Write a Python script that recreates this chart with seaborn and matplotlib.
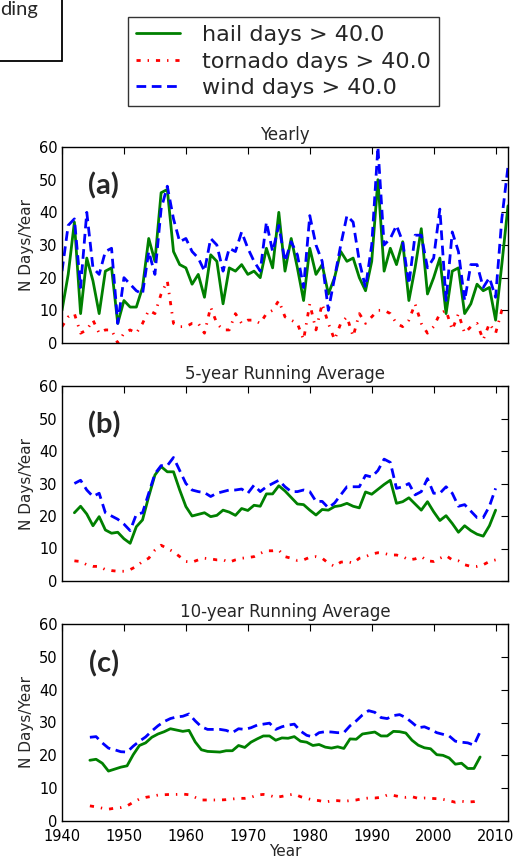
import numpy as np
import pandas as pd
import matplotlib
matplotlib.use("Agg")
import matplotlib.pyplot as plt
import seaborn as sns
from matplotlib.patches import Rectangle

# ---------------- data ----------------
years = list(range(1940, 2013))
hail_yearly = [10, 21, 37, 9, 26, 19, 9, 22, 23, 6,
               13, 11, 11, 17, 32, 25, 46, 47, 28, 24,
               23, 18, 21, 14, 27, 25, 12, 23, 22, 24,
               21, 22, 20, 29, 23, 40, 22, 32, 23, 13,
               29, 21, 24, 15, 20, 28, 25, 26, 20, 16,
               25, 50, 22, 29, 24, 31, 13, 23, 35, 15,
               20, 26, 9, 22, 23, 9, 12, 18, 16, 17,
               7, 24, 42]
tornado_yearly = [5, 8, 9, 3, 4, 7, 3, 4, 4, 0,
                  3, 4, 3, 6, 10, 9, 15, 19, 6, 5,
                  5, 6, 6, 3, 11, 6, 4, 4, 9, 6,
                  7, 7, 6, 9, 10, 13, 8, 7, 6, 1,
                  12, 4, 12, 6, 1, 6, 8, 2, 9, 6,
                  8, 10, 10, 9, 6, 5, 7, 12, 6, 3,
                  5, 9, 10, 4, 9, 3, 5, 6, 1, 6,
                  3, 10, 11]
wind_yearly = [22, 36, 38, 17, 40, 23, 21, 28, 29, 6,
               20, 18, 16, 15, 28, 21, 41, 48, 38, 31,
               32, 28, 26, 22, 32, 30, 22, 29, 28, 34,
               29, 25, 22, 37, 28, 36, 25, 31, 27, 17,
               39, 30, 25, 10, 20, 30, 39, 37, 25, 17,
               30, 60, 30, 32, 36, 31, 18, 33, 33, 23,
               26, 41, 13, 34, 28, 13, 24, 24, 17, 20,
               14, 38, 54]

years5 = list(range(1942, 2011))
hail_5yr = [21, 23, 20.6, 17, 19.8, 15.7, 14.7, 15, 13, 11.6,
            16.7, 18.8, 26, 32.6, 35.2, 33.6, 33.6, 28, 22.9, 20,
            20.5, 21, 19.8, 20.2, 21.8, 21.2, 20.2, 22.3, 21.7, 23.3,
            23, 26.8, 26.8, 29.3, 27.7, 25.7, 23.7, 23.5, 21.8, 20.3,
            22, 21.8, 22.9, 23.2, 23.9, 23, 22.5, 27.4, 26.7, 28.2,
            29.7, 31, 23.9, 24.4, 25.6, 23.7, 21.8, 24.4, 21.3, 18.6,
            20.1, 17.7, 15, 17, 15.5, 14.4, 13.8, 17, 21.8]
tornado_5yr = [6.2, 6, 5, 4.5, 4.5, 3.5, 3.2, 3, 3, 3.5,
               4.5, 6, 7, 9.5, 11, 10, 9, 7.5, 6, 5.8,
               6.5, 7, 6.8, 6.5, 6.5, 5.8, 6.5, 7, 7.2, 7.5,
               8.5, 9.3, 9.3, 9.5, 7.5, 7, 6.3, 6.5, 7.3, 7.5,
               7, 5.5, 4.5, 5.8, 6, 5.5, 7, 7.5, 8.3, 8.7,
               8.5, 8, 8, 7.5, 6.5, 6.8, 7.5, 6.2, 6, 7,
               7.8, 6.5, 6.2, 5, 4.5, 4.5, 5, 6, 6.5]
wind_5yr = [30, 31, 28, 26, 27, 21, 20, 19, 17.5, 15.5,
            20.5, 21, 27, 33, 35.5, 35.5, 38, 34, 30, 28,
            27.5, 27.2, 26, 27, 27.5, 28, 28, 28.3, 27, 29.5,
            27.5, 29, 30, 31, 29, 27.5, 27.5, 28, 27.5, 24.5,
            24.5, 22.5, 24, 26.5, 29, 29, 29, 32.5, 32, 34,
            37.5, 36.5, 28.5, 29, 30, 26.5, 27.5, 31.5, 27, 27,
            29, 27, 23, 23.5, 21.5, 19.5, 19.5, 23, 28.5]

years10 = [y + 0.5 for y in range(1944, 2008)]
hail_10yr = [18.5, 18.8, 17.6, 15.2, 15.8, 16.4, 16.8, 20.2, 23, 23.8,
             25.5, 26.5, 27.2, 28.1, 27.7, 27.3, 27.6, 24.1, 21.7, 21.2,
             21.1, 21, 21.4, 21.4, 23, 22.4, 24, 25, 25.9, 25.9,
             24.6, 25.3, 25.2, 25.7, 24.3, 24, 23, 23.3, 22.5, 22.2,
             22.6, 22.1, 25, 24.9, 26.5, 26.8, 27.1, 25.9, 25.9, 27.3,
             27.2, 26.8, 24.6, 23.1, 22.3, 22, 20.2, 20, 19.2, 17.3,
             17.6, 16, 16, 19.5]
tornado_10yr = [4.6, 4.3, 3.9, 3.6, 3.9, 4.1, 4.6, 5.7, 6.7, 7.2,
                7.5, 7.9, 8.0, 8.1, 8.1, 8.2, 8.0, 7.2, 6.4, 6.4,
                6.4, 6.4, 6.5, 6.7, 6.9, 6.9, 7.2, 7.9, 8.1, 7.8,
                7.2, 7.5, 7.9, 8.2, 7.4, 6.9, 6.4, 6.2, 5.8, 6.1,
                6.2, 6.0, 6.2, 6.4, 6.8, 7.0, 7.0, 7.2, 7.9, 7.8,
                7.4, 7.2, 7.4, 6.9, 7.0, 6.9, 6.8, 6.6, 6.2, 5.7,
                6.0, 5.8, 5.9, 6.3]
wind_10yr = [25.5, 25.7, 23.8, 22.2, 21.7, 21.1, 21.0, 22.8, 24.3, 25.6,
             27.4, 29.0, 30.3, 31.2, 31.7, 31.9, 32.6, 30.5, 28.7, 27.9,
             27.9, 27.9, 27.6, 26.9, 28.1, 27.9, 28.4, 29.2, 29.5, 29.8,
             27.9, 28.7, 29.2, 29.5, 27.4, 26.1, 25.6, 26.9, 27.2, 27.1,
             26.9, 26.9, 29.0, 30.5, 32.3, 33.6, 33.1, 31.5, 31.2, 32.1,
             32.4, 31.5, 30.0, 28.4, 28.7, 27.9, 26.9, 26.4, 25.9, 24.3,
             24.0, 23.8, 23.1, 27.2]

series_labels = ["hail days > 40.0", "tornado days > 40.0", "wind days > 40.0"]
panel_titles = ["Yearly", "5-year Running Average", "10-year Running Average"]
panel_tags = ["(a)", "(b)", "(c)"]
y_ticks = [0, 10, 20, 30, 40, 50, 60]
x_ticks = [1940, 1950, 1960, 1970, 1980, 1990, 2000, 2010]

# ---------------- style ----------------
sns.set_style("white")
plt.rcParams["font.family"] = ["DejaVu Sans"]
plt.rcParams["lines.scale_dashes"] = False

colors = ["green", "red", "blue"]
styles = ["-", (0, (3, 5, 1, 5)), (0, (7, 4))]

fig = plt.figure(figsize=(5.18, 8.59), dpi=100)
W, H = 518.0, 859.0
left = 62 / W
width = 446 / W
boxes = [(147, 343), (386, 581), (624, 821)]

panels = [
    (years, [hail_yearly, tornado_yearly, wind_yearly]),
    (years5, [hail_5yr, tornado_5yr, wind_5yr]),
    (years10, [hail_10yr, tornado_10yr, wind_10yr]),
]

axes = []
for i, ((top, bot), (xs, ys)) in enumerate(zip(boxes, panels)):
    ax = fig.add_axes([left, 1 - bot / H, width, (bot - top) / H])
    for j in range(3):
        df = pd.DataFrame({"Year": xs, "val": ys[j]})
        sns.lineplot(data=df, x="Year", y="val", ax=ax, color=colors[j],
                     linestyle=styles[j], lw=2, label=series_labels[j],
                     legend=False)
    ax.set_xlim(1940, 2012)
    ax.set_ylim(0, 60)
    ax.set_yticks(y_ticks)
    ax.set_xticks(x_ticks)
    ax.tick_params(direction="in", top=True, right=True, length=5,
                   width=0.8, labelsize=10.5, colors="black", pad=3)
    ax.tick_params(axis="x", pad=6)
    for s in ax.spines.values():
        s.set_color("black")
        s.set_linewidth(1.0)
    ax.set_title(panel_titles[i], fontsize=12, pad=5)
    ax.set_ylabel("N Days/Year", fontsize=11)
    if i < 2:
        ax.set_xlabel("")
        ax.set_xticklabels([])
    else:
        ax.set_xlabel("Year", fontsize=11, labelpad=0)
    ax.text(0.094, 0.80, panel_tags[i], transform=ax.transAxes,
            fontsize=21, fontweight="bold", family=["Lato", "DejaVu Sans"],
            ha="center", va="center")
    axes.append(ax)

handles, labels = axes[0].get_legend_handles_labels()
leg = fig.legend(handles, labels, loc="upper center",
                 bbox_to_anchor=(283.5 / W, 1 - 6 / H), fontsize=16,
                 frameon=True, fancybox=False, edgecolor="black",
                 handlelength=2.0, borderpad=0.35, labelspacing=0.3,
                 handletextpad=1.0)
leg.get_frame().set_linewidth(1.0)

# partial box at top-left corner
fig.patches.append(Rectangle((-0.2, 1 - 61 / H), 0.2 + 62.5 / W, 0.3,
                             transform=fig.transFigure, fill=False,
                             edgecolor="black", lw=1.3))
fig.text(0.0, 1 - 15 / H, "ding", fontsize=14.5, family=["Lato", "DejaVu Sans"],
         ha="left", va="baseline")

fig.savefig("out.png", dpi=100)
